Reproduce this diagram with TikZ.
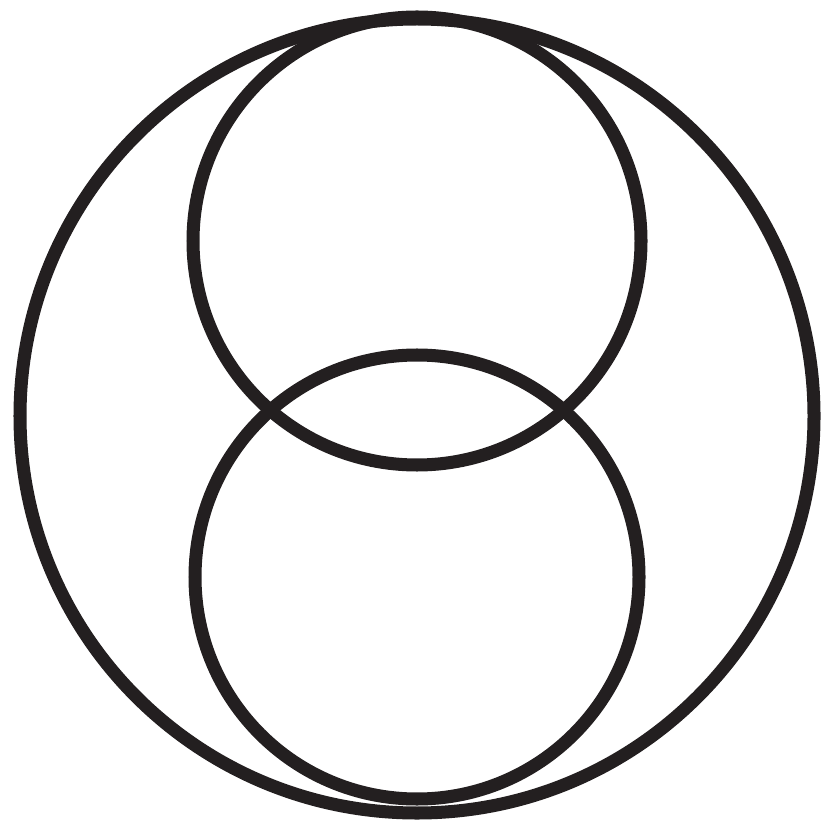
\documentclass[tikz,border=0pt]{standalone}
\usepackage{tikz}
\usetikzlibrary{calc}

\definecolor{ink}{HTML}{231F20}

\begin{document}
\begin{tikzpicture}[x=0.01cm, y=-0.01cm]
\useasboundingbox (0,0) rectangle (834,834);
\tikzset{ring/.style={draw=ink, line width=3.7pt}}

\coordinate (O) at (417,416);
\coordinate (U) at (417,241); \coordinate (D) at (417,577);

\draw[ring] (O) circle [radius=397];
\draw[ring] (U) circle [radius=224];
\draw[ring] (D) circle [radius=222];

\end{tikzpicture}
\end{document}
